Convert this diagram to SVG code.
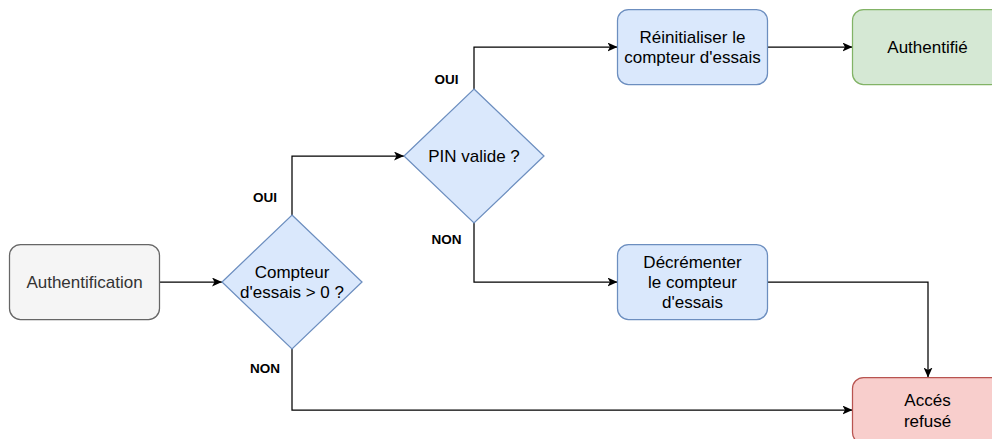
<svg xmlns="http://www.w3.org/2000/svg" width="992" height="439" viewBox="0 0 992 439">
<style>
  text { font-family: "Liberation Sans", Arial, sans-serif; font-size: 17px; text-anchor: middle; fill: #000; }
  .lbl { font-size: 13.5px; font-weight: bold; }
  .grey { fill: #f5f5f5; stroke: #666666; stroke-width: 1.25; }
  .blue { fill: #dae8fc; stroke: #6c8ebf; stroke-width: 1.25; }
  .green { fill: #d5e8d4; stroke: #82b366; stroke-width: 1.25; }
  .red { fill: #f8cecc; stroke: #b85450; stroke-width: 1.25; }
  .edge { fill: none; stroke: #000; stroke-width: 1.25; marker-end: url(#arrow); }
</style>
<defs>
  <marker id="arrow" markerUnits="userSpaceOnUse" markerWidth="10" markerHeight="9" refX="10" refY="4.5" orient="auto">
    <path d="M0,0 L10,4.5 L0,9 L2.5,4.5 Z" fill="#000"/>
  </marker>
</defs>
<rect width="992" height="439" fill="#ffffff"/>
<g id="connectors">
  <path class="edge" d="M159.5,282 H222"/>
  <path class="edge" d="M292,215 V156 H404"/>
  <path class="edge" d="M292,349 V410 H852.5"/>
  <path class="edge" d="M474,89 V47 H617.5"/>
  <path class="edge" d="M474,223 V282 H617.5"/>
  <path class="edge" d="M767.5,47 H852.5"/>
  <path class="edge" d="M767.5,282 H928 V377.5"/>
  <text class="lbl" x="265" y="201.5">OUI</text>
  <text class="lbl" x="265" y="372.5">NON</text>
  <text class="lbl" x="446.5" y="84">OUI</text>
  <text class="lbl" x="446.5" y="244">NON</text>
</g>
<g id="authentification">
  <rect class="grey" x="9.5" y="244.5" width="150" height="75" rx="11"/>
  <text x="84.5" y="288" fill="#333333" style="fill:#333333">Authentification</text>
</g>
<g id="compteur">
  <polygon class="blue" points="292,215 362,282 292,349 222,282"/>
  <text x="292" y="277.7">Compteur</text>
  <text x="292" y="298.1">d'essais &gt; 0 ?</text>
</g>
<g id="pin">
  <polygon class="blue" points="474,89 544,156 474,223 404,156"/>
  <text x="474" y="162">PIN valide ?</text>
</g>
<g id="reinit">
  <rect class="blue" x="617.5" y="9.5" width="150" height="75" rx="11"/>
  <text x="692.5" y="42.7">Réinitialiser le</text>
  <text x="692.5" y="63.1">compteur d'essais</text>
</g>
<g id="authentifie">
  <rect class="green" x="852.5" y="9.5" width="150" height="75" rx="11"/>
  <text x="927.5" y="53">Authentifié</text>
</g>
<g id="decrementer">
  <rect class="blue" x="617.5" y="244.5" width="150" height="75" rx="11"/>
  <text x="692.5" y="267.5">Décrémenter</text>
  <text x="692.5" y="287.9">le compteur</text>
  <text x="692.5" y="308.3">d'essais</text>
</g>
<g id="refuse">
  <rect class="red" x="852.5" y="377.5" width="150" height="66" rx="11"/>
  <text x="927.5" y="406">Accés</text>
  <text x="927.5" y="426.5">refusé</text>
</g>
</svg>
